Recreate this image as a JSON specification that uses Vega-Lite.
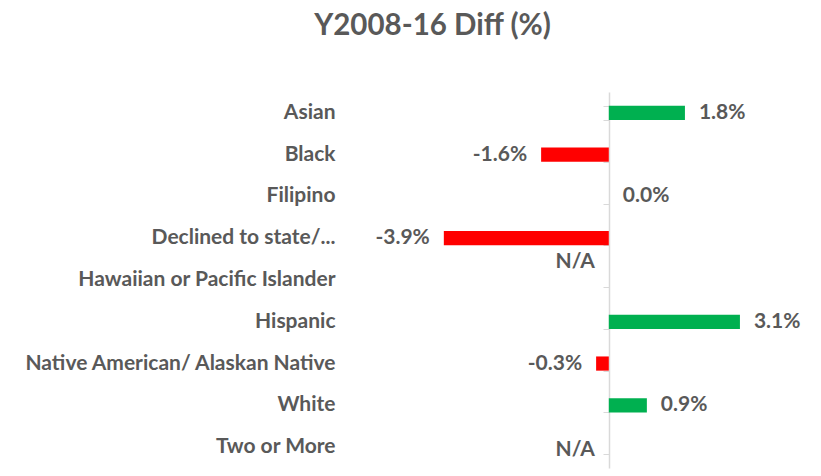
{
  "$schema": "https://vega.github.io/schema/vega-lite/v6.json",
  "width": 423,
  "height": 376,
  "autosize": {"type": "none"},
  "padding": {"left": 355, "top": 92, "right": 43, "bottom": 8},
  "background": "white",
  "config": {"view": {"stroke": null}, "font": "Lato"},
  "title": {"text": "Y2008-16 Diff (%)", "fontSize": 29.5, "font": "Lato", "fontWeight": "bold", "color": "#595959", "anchor": "middle", "frame": "group", "offset": 51, "dx": -134},
  "data": {"values": [
    {"cat": "Asian", "value": 0.018, "label": "1.8%", "status": "pos"},
    {"cat": "Black", "value": -0.016, "label": "-1.6%", "status": "neg"},
    {"cat": "Filipino", "value": 0.0, "label": "0.0%", "status": "pos"},
    {"cat": "Declined to state/...", "value": -0.039, "label": "-3.9%", "status": "neg"},
    {"cat": "Hawaiian or Pacific Islander", "value": null, "label": "N/A", "status": "na_up"},
    {"cat": "Hispanic", "value": 0.031, "label": "3.1%", "status": "pos"},
    {"cat": "Native American/ Alaskan Native", "value": -0.003, "label": "-0.3%", "status": "neg"},
    {"cat": "White", "value": 0.009, "label": "0.9%", "status": "pos"},
    {"cat": "Two or More", "value": null, "label": "N/A", "status": "na"}
  ]},
  "encoding": {
    "y": {"field": "cat", "type": "nominal", "sort": null,
      "scale": {"domain": ["Asian", "Black", "Filipino", "Declined to state/...", "Hawaiian or Pacific Islander", "Hispanic", "Native American/ Alaskan Native", "White", "Two or More"], "paddingInner": 0.66, "paddingOuter": 0.33}}
  },
  "layer": [
    {
      "transform": [{"filter": "datum.status === 'pos' || datum.status === 'neg'"}],
      "mark": {"type": "bar"},
      "encoding": {
        "x": {"field": "value", "type": "quantitative", "scale": {"domain": [-0.06, 0.04], "nice": false, "zero": true}, "axis": null},
        "y": {"field": "cat", "type": "nominal", "sort": null, "title": null,
          "axis": {"orient": "left", "domain": false, "ticks": false, "labelPadding": 20, "labelLimit": 400, "labelFont": "Lato", "labelFontSize": 21, "labelFontWeight": "bold", "labelColor": "#595959"}},
        "color": {"condition": {"test": "datum.value < 0", "value": "#FF0000"}, "value": "#00B050"}
      }
    },
    {
      "transform": [{"filter": "datum.status === 'pos'"}],
      "mark": {"type": "text", "align": "left", "baseline": "middle", "dx": 14, "font": "Lato", "fontSize": 21, "fontWeight": "bold", "color": "#595959"},
      "encoding": {
        "x": {"field": "value", "type": "quantitative"},
        "y": {"field": "cat", "type": "nominal", "sort": null, "title": null,
          "axis": {"orient": "left", "offset": -254, "labels": false, "ticks": true, "tickBand": "extent", "tickSize": 6, "tickColor": "#D9D9D9", "domain": true, "domainColor": "#D9D9D9", "domainWidth": 1.5, "grid": false}},
        "text": {"field": "label"}
      }
    },
    {
      "transform": [{"filter": "datum.status === 'neg'"}],
      "mark": {"type": "text", "align": "right", "baseline": "middle", "dx": -14, "font": "Lato", "fontSize": 21, "fontWeight": "bold", "color": "#595959"},
      "encoding": {
        "x": {"field": "value", "type": "quantitative"},
        "y": {"field": "cat", "type": "nominal", "sort": null, "axis": null},
        "text": {"field": "label"}
      }
    },
    {
      "transform": [{"filter": "datum.status === 'na_up'"}],
      "mark": {"type": "text", "align": "right", "baseline": "middle", "dx": -14, "dy": -18, "font": "Lato", "fontSize": 21, "fontWeight": "bold", "color": "#595959"},
      "encoding": {
        "x": {"datum": 0, "type": "quantitative"},
        "y": {"field": "cat", "type": "nominal", "sort": null, "axis": null},
        "text": {"field": "label"}
      }
    },
    {
      "transform": [{"filter": "datum.status === 'na'"}],
      "mark": {"type": "text", "align": "right", "baseline": "middle", "dx": -14, "dy": 3, "font": "Lato", "fontSize": 21, "fontWeight": "bold", "color": "#595959"},
      "encoding": {
        "x": {"datum": 0, "type": "quantitative"},
        "y": {"field": "cat", "type": "nominal", "sort": null, "axis": null},
        "text": {"field": "label"}
      }
    }
  ],
  "resolve": {"axis": {"y": "independent"}}
}
